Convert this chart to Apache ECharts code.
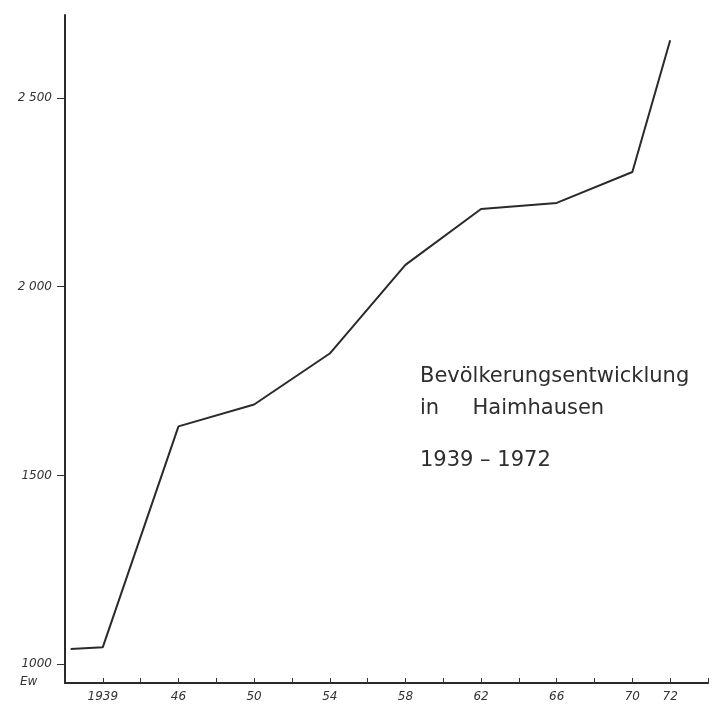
<!doctype html>
<html lang="de">
<head>
<meta charset="UTF-8" />
<title>Bevölkerungsentwicklung Haimhausen</title>
<style>
  html, body { margin: 0; padding: 0; background: #fff; }
  #chart { width: 712px; height: 708px; }
</style>
</head>
<body>
<div id="chart"></div>
<script src="https://cdn.jsdelivr.net/npm/echarts@6/dist/echarts.min.js"></script>
<script>
// x-Achse: gleichmäßige Teilung (1 Teil = 2 Jahre ab 1946, 1939 -> 46 gestaucht)
const xTickLabels = ['', '1939', '', '46', '', '50', '', '54', '', '58', '', '62', '', '66', '', '70', '72', ''];
// Lage der Messpunkte auf der Achsenteilung
const pointPos = [0.15, 1, 3, 5, 7, 9, 11, 13, 15, 16];
// Einwohner (Ew)
const population = [1040, 1045, 1630, 1688, 1823, 2058, 2206, 2222, 2304, 2653];

const yTickValues = [1000, 1500, 2000, 2500];
const yTickLabels = ['1000', '1500', '2 000', '2 500'];

const titleLines = ['Bevölkerungsentwicklung', 'in     Haimhausen', '1939 – 1972'];

var chart = echarts.init(document.getElementById('chart'));

var labelFont = {
    fontFamily: 'DejaVu Sans',
    fontStyle: 'italic',
    fontSize: 12,
    color: '#333'
};

var titleFont = { fontFamily: 'DejaVu Sans', fontSize: 21, fill: '#2e2e2e' };

var option = {
    animation: false,
    backgroundColor: '#fff',
    grid: { left: 65, right: 4, top: 15, bottom: 25 },
    xAxis: {
        type: 'value',
        min: 0,
        max: 17,
        interval: 1,
        axisLine: { show: true, lineStyle: { color: '#2a2a2a', width: 2 } },
        axisTick: { show: true, inside: true, length: 5, lineStyle: { color: '#333', width: 1 } },
        axisLabel: Object.assign({
            margin: 8,
            showMinLabel: true,
            showMaxLabel: true,
            formatter: function (v) { return xTickLabels[Math.round(v)] || ''; }
        }, labelFont),
        splitLine: { show: false }
    },
    yAxis: {
        type: 'value',
        min: 950,
        max: 2720,
        axisLine: { show: true, lineStyle: { color: '#2a2a2a', width: 2 } },
        axisTick: { show: true, length: 8, customValues: yTickValues, lineStyle: { color: '#333', width: 1 } },
        axisLabel: Object.assign({
            margin: 13,
            customValues: yTickValues,
            formatter: function (v) { return yTickLabels[yTickValues.indexOf(v)]; }
        }, labelFont),
        splitLine: { show: false }
    },
    series: [{
        type: 'line',
        data: pointPos.map(function (p, i) { return [p, population[i]]; }),
        symbol: 'none',
        lineStyle: { color: '#2a2a2a', width: 2 }
    }],
    graphic: [
        { type: 'text', left: 20, top: 676, style: { text: 'Ew', fontFamily: 'DejaVu Sans', fontStyle: 'italic', fontSize: 12, fill: '#333' } },
        { type: 'text', left: 420, top: 366, style: Object.assign({ text: titleLines[0] }, titleFont) },
        { type: 'text', left: 420, top: 398, style: Object.assign({ text: titleLines[1] }, titleFont) },
        { type: 'text', left: 420, top: 450, style: Object.assign({ text: titleLines[2] }, titleFont) }
    ]
};

chart.setOption(option);
</script>
</body>
</html>
